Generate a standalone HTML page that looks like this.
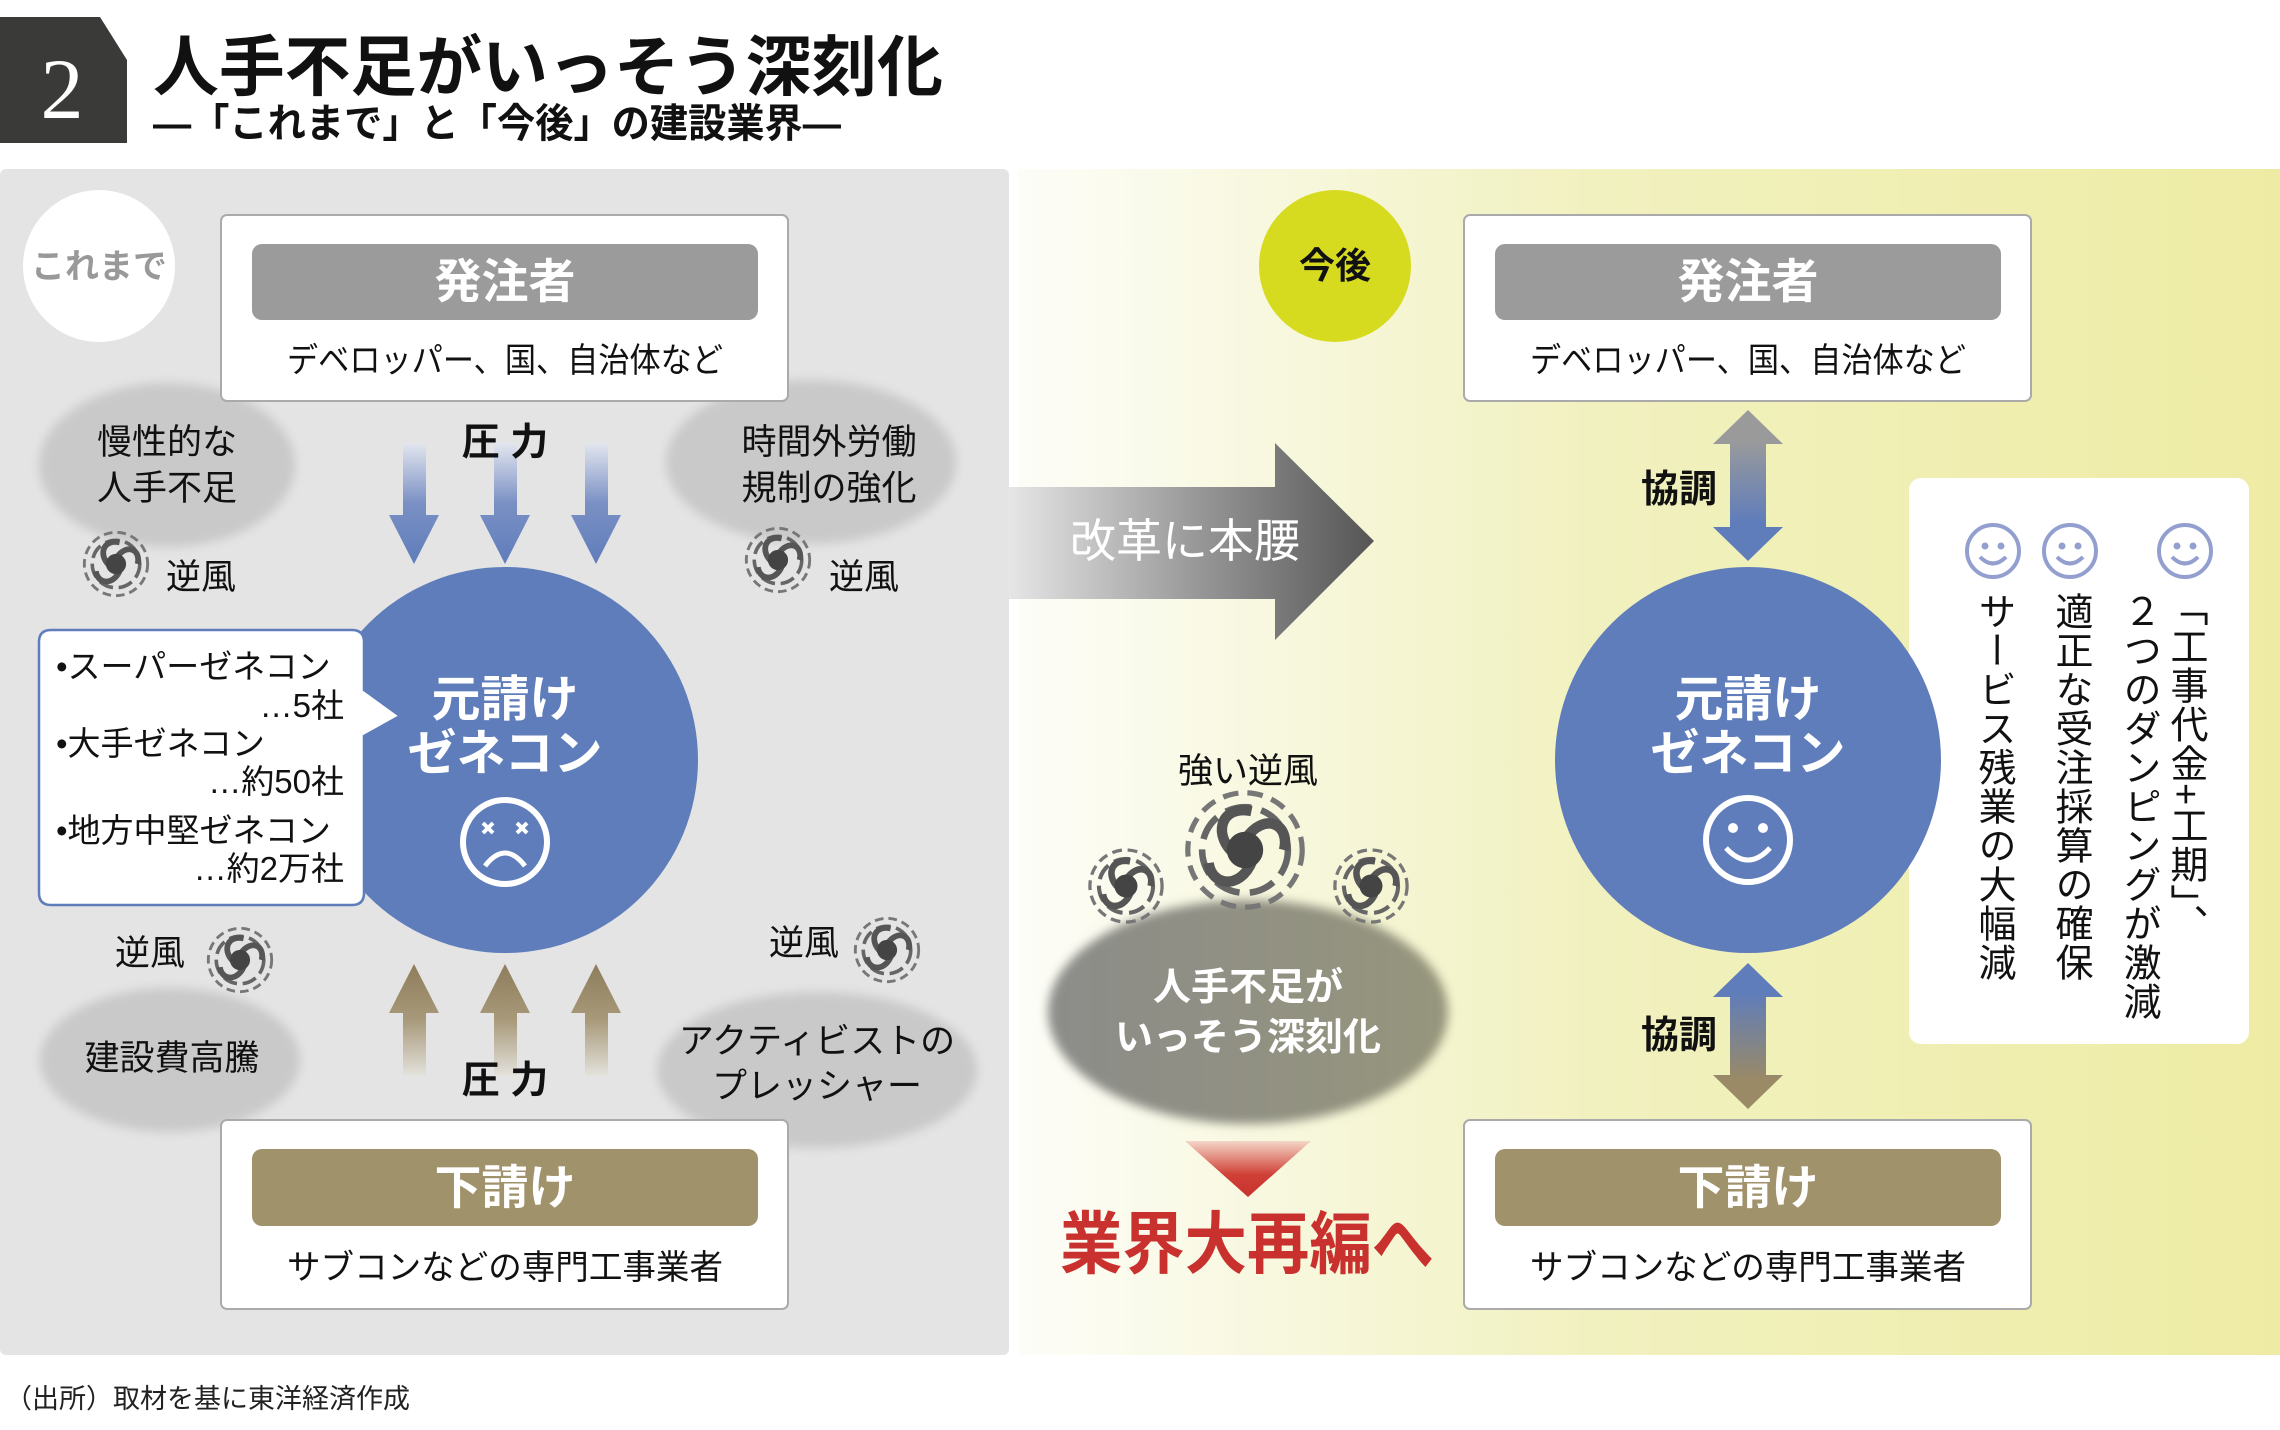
<!DOCTYPE html>
<html><head><meta charset="utf-8">
<style>
html,body{margin:0;padding:0;background:#fff;}
body{width:2280px;height:1430px;position:relative;overflow:hidden;font-family:"Liberation Sans","Noto Sans CJK JP",sans-serif;}
svg text{font-family:"Liberation Sans","Noto Sans CJK JP",sans-serif;}
.v{position:absolute;writing-mode:vertical-rl;font-size:38px;line-height:40px;color:#111;font-family:"Liberation Sans","Noto Sans CJK JP",sans-serif;letter-spacing:1px;}
</style></head><body>
<svg width="2280" height="1430" viewBox="0 0 2280 1430" xmlns="http://www.w3.org/2000/svg" style="position:absolute;left:0;top:0">
<defs>
<linearGradient id="rp" x1="0" y1="0" x2="1" y2="0">
<stop offset="0" stop-color="#fdfdf8"/><stop offset="0.45" stop-color="#f1f1c0"/><stop offset="1" stop-color="#eeeca4"/>
</linearGradient>
<linearGradient id="blueDown" x1="0" y1="0" x2="0" y2="1">
<stop offset="0" stop-color="#e3e6ef"/><stop offset="0.5" stop-color="#7a90c4"/><stop offset="1" stop-color="#5f7dbb"/>
</linearGradient>
<linearGradient id="brownUp" x1="0" y1="1" x2="0" y2="0">
<stop offset="0" stop-color="#e3e2dc"/><stop offset="0.5" stop-color="#a8997a"/><stop offset="1" stop-color="#8d7d5b"/>
</linearGradient>
<linearGradient id="bigArrow" x1="0" y1="0" x2="1" y2="0">
<stop offset="0" stop-color="#e6e6e6"/><stop offset="0.5" stop-color="#9a9a9a"/><stop offset="1" stop-color="#555"/>
</linearGradient>
<linearGradient id="dbl1" x1="0" y1="0" x2="0" y2="1">
<stop offset="0.2" stop-color="#9a9a9a"/><stop offset="0.75" stop-color="#5f7dbb"/>
</linearGradient>
<linearGradient id="dbl2" x1="0" y1="0" x2="0" y2="1">
<stop offset="0.2" stop-color="#5f7dbb"/><stop offset="0.8" stop-color="#9a8a66"/>
</linearGradient>
<linearGradient id="redTri" x1="0" y1="0" x2="0" y2="1">
<stop offset="0" stop-color="#f4d6c8"/><stop offset="0.6" stop-color="#d04036"/><stop offset="1" stop-color="#c8312e"/>
</linearGradient>
<linearGradient id="darkCloud" x1="0" y1="0" x2="1" y2="0">
<stop offset="0" stop-color="#8c8c8a"/><stop offset="1" stop-color="#96957c"/>
</linearGradient>
<filter id="blur" x="-20%" y="-20%" width="140%" height="140%"><feGaussianBlur stdDeviation="5"/></filter>
<symbol id="sw" viewBox="-50 -50 100 100">
<circle r="44" fill="none" stroke="#777" stroke-width="4" stroke-dasharray="12 7"/>
<circle r="33" fill="none" stroke="#666" stroke-width="5" stroke-dasharray="20 8"/>
<path d="M0,-8 C15,-30 35,-20 30,0" fill="none" stroke="#555" stroke-width="8"/>
<path d="M7,4 C0,30 -25,30 -28,10" fill="none" stroke="#555" stroke-width="8"/>
<path d="M-7,4 C-25,-10 -20,-35 5,-30" fill="none" stroke="#555" stroke-width="8"/>
<circle r="14" fill="#444"/>
</symbol>
</defs>

<polygon points="0,17 100,17 127,60 127,143 0,143" fill="#3a3a38"/>
<text x="62" y="118" font-size="86" fill="#fff" text-anchor="middle" style="font-family:'Liberation Serif',serif">2</text>
<text x="153" y="90" font-size="66" font-weight="bold" fill="#111" textLength="790" lengthAdjust="spacingAndGlyphs">人手不足がいっそう深刻化</text>
<text x="153" y="137" font-size="40" font-weight="bold" fill="#111" textLength="688" lengthAdjust="spacingAndGlyphs">―「これまで」と「今後」の建設業界―</text>

<rect x="0" y="169" width="1009" height="1186" rx="6" fill="#e4e4e4"/>
<rect x="1018" y="169" width="1262" height="1186" fill="url(#rp)"/>

<g filter="url(#blur)" fill="#c9c9c9">
<ellipse cx="167" cy="465" rx="128" ry="82"/>
<ellipse cx="811" cy="462" rx="145" ry="82"/>
<ellipse cx="170" cy="1060" rx="130" ry="72"/>
<ellipse cx="817" cy="1070" rx="160" ry="78"/>
</g>

<circle cx="99" cy="266" r="76" fill="#fff"/>
<text x="99" y="278" font-size="34" font-weight="bold" fill="#999" text-anchor="middle">これまで</text>

<rect x="221" y="215" width="567" height="186" rx="6" fill="#fff" stroke="#aaa" stroke-width="2"/>
<rect x="252" y="244" width="506" height="76" rx="10" fill="#9b9b9b"/>
<text x="505" y="298" font-size="47" font-weight="bold" fill="#fff" text-anchor="middle">発注者</text>
<text x="287" y="372" font-size="34" fill="#111" textLength="436" lengthAdjust="spacingAndGlyphs">デベロッパー、国、自治体など</text>

<g fill="url(#blueDown)">
<polygon points="403,443 426,443 426,515 439,515 414,564 389,515 403,515"/>
<polygon points="494,443 517,443 517,515 530,515 505,564 480,515 494,515"/>
<polygon points="585,443 608,443 608,515 621,515 596,564 571,515 585,515"/>
</g>
<text x="505" y="455" font-size="38" font-weight="bold" fill="#111" text-anchor="middle">圧 力</text>

<g font-size="35" fill="#111" text-anchor="middle">
<text x="167" y="454">慢性的な</text>
<text x="167" y="500">人手不足</text>
<text x="829" y="454">時間外労働</text>
<text x="829" y="500">規制の強化</text>
<text x="172" y="1070">建設費高騰</text>
<text x="817" y="1053">アクティビストの</text>
<text x="817" y="1098">プレッシャー</text>
<text x="201" y="589">逆風</text>
<text x="864" y="589">逆風</text>
<text x="150" y="965">逆風</text>
<text x="804" y="955">逆風</text>
</g>
<use href="#sw" x="80" y="528" width="72" height="72"/>
<use href="#sw" x="742" y="524" width="72" height="72"/>
<use href="#sw" x="204" y="924" width="72" height="72"/>
<use href="#sw" x="851" y="914" width="72" height="72"/>

<circle cx="505" cy="760" r="193" fill="#5f7dbb"/>
<text x="505" y="716" font-size="49" font-weight="bold" fill="#fff" text-anchor="middle">元請け</text>
<text x="505" y="770" font-size="49" font-weight="bold" fill="#fff" text-anchor="middle">ゼネコン</text>
<circle cx="505" cy="842" r="42" fill="none" stroke="#fff" stroke-width="6"/>
<g stroke="#fff" stroke-width="4"><line x1="483" y1="823" x2="493" y2="833"/><line x1="493" y1="823" x2="483" y2="833"/><line x1="517" y1="823" x2="527" y2="833"/><line x1="527" y1="823" x2="517" y2="833"/></g>
<path d="M485,866 Q505,840 525,866" fill="none" stroke="#fff" stroke-width="5"/>

<path d="M51,630 L352,630 Q364,630 364,642 L364,690 L400,716 L364,736 L364,893 Q364,905 352,905 L51,905 Q39,905 39,893 L39,642 Q39,630 51,630 Z" fill="#fff" stroke="#5f7dbb" stroke-width="2.5"/>
<g font-size="33" fill="#111">
<text x="56" y="678">•スーパーゼネコン</text>
<text x="344" y="717" text-anchor="end">…5社</text>
<text x="56" y="755">•大手ゼネコン</text>
<text x="344" y="793" text-anchor="end">…約50社</text>
<text x="56" y="842">•地方中堅ゼネコン</text>
<text x="344" y="880" text-anchor="end">…約2万社</text>
</g>

<g fill="url(#brownUp)">
<polygon points="403,1076 426,1076 426,1013 439,1013 414,964 389,1013 403,1013"/>
<polygon points="494,1076 517,1076 517,1013 530,1013 505,964 480,1013 494,1013"/>
<polygon points="585,1076 608,1076 608,1013 621,1013 596,964 571,1013 585,1013"/>
</g>
<text x="505" y="1093" font-size="38" font-weight="bold" fill="#111" text-anchor="middle">圧 力</text>

<rect x="221" y="1120" width="567" height="189" rx="6" fill="#fff" stroke="#aaa" stroke-width="2"/>
<rect x="252" y="1149" width="506" height="77" rx="10" fill="#a0926a"/>
<text x="505" y="1204" font-size="47" font-weight="bold" fill="#fff" text-anchor="middle">下請け</text>
<text x="287" y="1279" font-size="34" fill="#111" textLength="436" lengthAdjust="spacingAndGlyphs">サブコンなどの専門工事業者</text>

<polygon points="1009,487 1275,487 1275,443 1374,541 1275,640 1275,599 1009,599" fill="url(#bigArrow)"/>
<text x="1185" y="557" font-size="46" fill="#fff" text-anchor="middle">改革に本腰</text>

<text x="1248" y="783" font-size="35" fill="#111" text-anchor="middle">強い逆風</text>
<g filter="url(#blur)"><ellipse cx="1248" cy="1012" rx="200" ry="112" fill="url(#darkCloud)"/></g>
<use href="#sw" x="1180" y="785" width="130" height="130"/>
<use href="#sw" x="1085" y="845" width="82" height="82"/>
<use href="#sw" x="1330" y="845" width="82" height="82"/>
<text x="1248" y="1000" font-size="38" font-weight="bold" fill="#fff" text-anchor="middle">人手不足が</text>
<text x="1248" y="1050" font-size="38" font-weight="bold" fill="#fff" text-anchor="middle">いっそう深刻化</text>
<polygon points="1185,1141 1311,1141 1248,1197" fill="url(#redTri)"/>
<text x="1060" y="1268" font-size="68" font-weight="bold" fill="#c8312e" textLength="374" lengthAdjust="spacingAndGlyphs">業界大再編へ</text>

<circle cx="1335" cy="266" r="76" fill="#d6db1f"/>
<text x="1335" y="278" font-size="36" font-weight="bold" fill="#111" text-anchor="middle">今後</text>

<rect x="1464" y="215" width="567" height="186" rx="6" fill="#fff" stroke="#aaa" stroke-width="2"/>
<rect x="1495" y="244" width="506" height="76" rx="10" fill="#9b9b9b"/>
<text x="1748" y="298" font-size="47" font-weight="bold" fill="#fff" text-anchor="middle">発注者</text>
<text x="1530" y="372" font-size="34" fill="#111" textLength="436" lengthAdjust="spacingAndGlyphs">デベロッパー、国、自治体など</text>

<polygon points="1748,410 1783,444 1766,444 1766,527 1783,527 1748,561 1713,527 1730,527 1730,444 1713,444" fill="url(#dbl1)"/>
<polygon points="1748,963 1783,997 1766,997 1766,1075 1783,1075 1748,1109 1713,1075 1730,1075 1730,997 1713,997" fill="url(#dbl2)"/>
<text x="1679" y="502" font-size="38" font-weight="bold" fill="#111" text-anchor="middle">協調</text>
<text x="1679" y="1048" font-size="38" font-weight="bold" fill="#111" text-anchor="middle">協調</text>

<rect x="1909" y="478" width="340" height="566" rx="12" fill="#fff"/>
<g fill="none" stroke="#93a0cf" stroke-width="4">
<circle cx="1993" cy="551" r="26"/><circle cx="2070" cy="551" r="26"/><circle cx="2185" cy="551" r="26"/>
<path d="M1980,557 Q1993,570 2006,557"/><path d="M2057,557 Q2070,570 2083,557"/><path d="M2172,557 Q2185,570 2198,557"/>
</g>
<g fill="#93a0cf">
<circle cx="1985" cy="546" r="3.5"/><circle cx="2001" cy="546" r="3.5"/>
<circle cx="2062" cy="546" r="3.5"/><circle cx="2078" cy="546" r="3.5"/>
<circle cx="2177" cy="546" r="3.5"/><circle cx="2193" cy="546" r="3.5"/>
</g>

<circle cx="1748" cy="760" r="193" fill="#5f7dbb"/>
<text x="1748" y="716" font-size="49" font-weight="bold" fill="#fff" text-anchor="middle">元請け</text>
<text x="1748" y="770" font-size="49" font-weight="bold" fill="#fff" text-anchor="middle">ゼネコン</text>
<circle cx="1748" cy="840" r="42" fill="none" stroke="#fff" stroke-width="6"/>
<circle cx="1733" cy="828" r="5" fill="#fff"/><circle cx="1763" cy="828" r="5" fill="#fff"/>
<path d="M1726,848 Q1748,872 1770,848" fill="none" stroke="#fff" stroke-width="5"/>

<rect x="1464" y="1120" width="567" height="189" rx="6" fill="#fff" stroke="#aaa" stroke-width="2"/>
<rect x="1495" y="1149" width="506" height="77" rx="10" fill="#a0926a"/>
<text x="1748" y="1204" font-size="47" font-weight="bold" fill="#fff" text-anchor="middle">下請け</text>
<text x="1530" y="1279" font-size="34" fill="#111" textLength="436" lengthAdjust="spacingAndGlyphs">サブコンなどの専門工事業者</text>

<text x="5" y="1408" font-size="27" fill="#222">（出所）取材を基に東洋経済作成</text>
</svg>

<div class="v" style="left:2165px;top:588px;">「工事代金+工期」、</div>
<div class="v" style="left:2118px;top:592px;">２つのダンピングが激減</div>
<div class="v" style="left:2050px;top:592px;">適正な受注採算の確保</div>
<div class="v" style="left:1973px;top:592px;">サービス残業の大幅減</div>
</body></html>
